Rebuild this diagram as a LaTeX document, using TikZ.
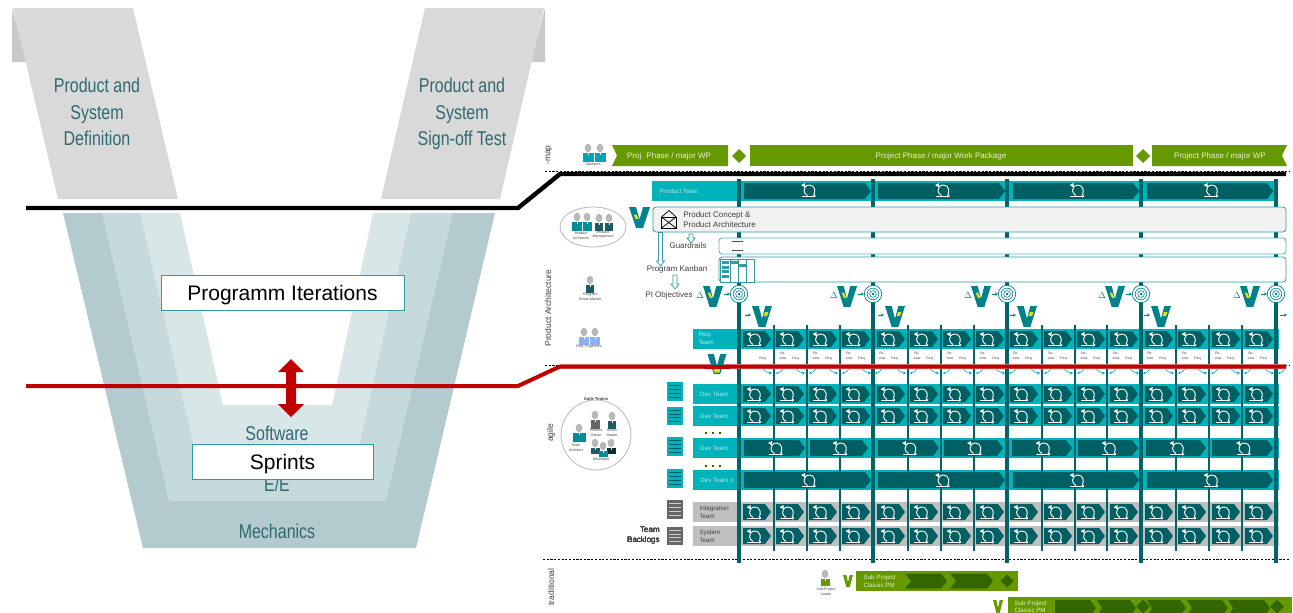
\documentclass[tikz,border=0pt]{standalone}
\usepackage{fontspec}
\setmainfont{Liberation Sans}
\newfontfamily\narrowfont[FakeStretch=0.8]{Liberation Sans}
\usepackage{xcolor}
\usepackage{tikz}
\usetikzlibrary{arrows.meta}

\definecolor{greylight}{HTML}{D9D9D9}
\definecolor{greydark}{HTML}{C9C9C9}
\definecolor{layerone}{HTML}{B3CBCE}
\definecolor{layertwo}{HTML}{C6DADD}
\definecolor{layerthree}{HTML}{D9E6E8}
\definecolor{vtext}{HTML}{2F6A70}
\definecolor{boxline}{HTML}{2E9CA0}
\definecolor{barred}{HTML}{C00000}
\definecolor{barpink}{HTML}{E8A8A8}
\definecolor{teamteal}{HTML}{00B2BA}
\definecolor{iterdark}{HTML}{005F63}
\definecolor{linedark}{HTML}{006468}
\definecolor{vteal}{HTML}{00828C}
\definecolor{ppl}{HTML}{008C99}
\definecolor{pplsky}{HTML}{00A5B5}
\definecolor{ppldark}{HTML}{1A5C60}
\definecolor{pplblue}{HTML}{8FB0F0}
\definecolor{phasegreen}{HTML}{669900}
\definecolor{chevgreen}{HTML}{336600}
\definecolor{teamtext}{HTML}{B8EAEC}
\definecolor{textdark}{HTML}{404040}

\tikzset{
  sectionlabel/.style={rotate=90, font=\fontsize{8.5}{10}\selectfont, text=textdark},
  vlabel/.style={font=\narrowfont\fontsize{20}{26.5}\selectfont, text=vtext, align=center},
  phaselabel/.style={font=\fontsize{8}{10}\selectfont, text=white!85!phasegreen},
  darklabel/.style={font=\fontsize{8}{10}\selectfont, text=textdark},
  teamlabel/.style={font=\fontsize{6.2}{8}\selectfont, text=teamtext, align=left},
  greylabel/.style={font=\fontsize{6.2}{7.5}\selectfont, text=textdark, align=left, anchor=west},
  tinylabel/.style={font=\fontsize{3.6}{4.8}\selectfont, text=textdark, align=center},
  revlabel/.style={font=\fontsize{3.4}{5}\selectfont, text=textdark, align=center},
  phasebar/.style={fill=phasegreen},
  iterfill/.style={fill=iterdark},
  teamband/.style={fill=teamteal},
  greyband/.style={fill=black!25},
  roundbar/.style={draw=boxline, rounded corners=3pt, line width=0.8pt},
  hollowarrow/.style={draw=boxline, fill=white, line width=0.7pt},
  levelbox/.style={draw=boxline, fill=white, line width=0.8pt, text height=15.5pt, text depth=0pt, font=\fontsize{21}{24}\selectfont},
  limitline/.style={black, line width=0.7pt, dash pattern=on 2.2pt off 1.5pt},
}

% an iteration arrow: left, right, top, bottom
\newcommand{\iterbox}[4]{
  \fill[iterfill] (#1,#3) -- (#2-6,#3) -- (#2,{(#3+#4)/2}) -- (#2-6,#4) -- (#1,#4) -- cycle;
}
% the loop glyph, centred at x,y
\newcommand{\iterglyph}[2]{
  \begin{scope}[shift={({#1},{#2})}, white, line width=0.95pt]
    \draw[-{Stealth[length=2.4pt,width=3pt]}] (-6,6) -- (8.5,6);
    \draw (6,5.5) .. controls (8.5,2) and (7.5,-5) .. (2,-5)
      .. controls (-2,-5) and (-3.5,-2) .. (-3.5,0.5) .. controls (-3.5,2.5) and (-2,4.5) .. (0,5.5);
    \fill (-6.5,-5) -- (-2.5,-7) -- (-2.5,-2.5) -- cycle;
  \end{scope}
}
% one person: x, head y, body colour, body width, body height
\newcommand{\person}[5]{
  \fill[black!28] (#1,#2) ellipse (3.4 and 4.2);
  \fill[#3] ({#1-#4/2},#2+4.5) rectangle ({#1+#4/2},#2+4.5+#5);
  \fill[white] ({#1-0.4},#2+5) rectangle ({#1+0.4},#2+7);
}
% a V mark: centre x, top y, width, height, colour
\newcommand{\vmark}[5]{
  \fill[#5] ({#1-#3/2},#2) -- ({#1-#3/6},#2) -- (#1,{#2+#4*0.6}) -- ({#1+#3/6},#2) -- ({#1+#3/2},#2)
    -- ({#1+#3/6},#2+#4) -- ({#1-#3/6},#2+#4) -- cycle;
}
% a backlog stack: top y, bottom y, fill colour, stripe colour
\newcommand{\backlog}[4]{
  \fill[#3] (667,#1) rectangle (683,#2);
  \foreach \n in {1,...,4}
    \draw[#4, line width=0.9pt] (669,{#1+\n*(#2-#1)/5}) -- (681,{#1+\n*(#2-#1)/5});
}
% a hollow down arrow: x, top y, bottom y
\newcommand{\hollowdown}[3]{
  \draw[hollowarrow] (#1-2,#2) -- (#1+2,#2) -- (#1+2,#3-5) -- (#1+4,#3-5) -- (#1,#3) -- (#1-4,#3-5) -- (#1-2,#3-5) -- cycle;
}
\newcommand{\chevron}[5]{
  \fill[chevgreen] (#1,#3) -- (#2-6,#3) -- (#2,{(#3+#4)/2}) -- (#2-6,#4) -- (#1,#4) -- (#1+#5,{(#3+#4)/2}) -- cycle;
}

\begin{document}
\begin{tikzpicture}[x=1pt, y=-1pt, line width=0.6pt]

  \useasboundingbox (0,0) rectangle (1293,613);

  % -- left picture: the big V -----------------------------------------------
  \fill[greydark] (12,8) -- (12,62) -- (27,62) -- cycle;
  \fill[greydark] (545,8) -- (545,62) -- (531,62) -- cycle;
  \fill[greylight] (13,8) -- (133,8) -- (178,199) -- (58,199) -- cycle;
  \fill[greylight] (425,8) -- (544,8) -- (500,199) -- (381,199) -- cycle;

  \fill[layerone] (63,213) -- (143,548) -- (416,548) -- (495,213) -- cycle;
  \fill[layertwo] (102,213) -- (169,501) -- (386,501) -- (453,213) -- cycle;
  \fill[layerthree] (140,213) -- (197,460) -- (356,460) -- (411,213) -- cycle;
  \fill[white] (180,213) -- (223,405) -- (332,405) -- (373,213) -- cycle;

  \node[vlabel] (leftname) at (97,112) {Product and\\System\\Definition};
  \node[vlabel] (rightname) at (462,114) {Product and\\System\\Sign-off Test};
  \node[vlabel] (software) at (277,433) {Software};
  \node[vlabel] (ee) at (277,484) {E/E};
  \node[vlabel] (mechanics) at (277,531) {Mechanics};

  \node[levelbox, minimum width=243pt, minimum height=35pt] (iterations) at (282.5,292.5) {Programm Iterations};
  \node[levelbox, minimum width=181pt, minimum height=35pt] (sprints) at (282.5,461.5) {Sprints};

  % -- section limits --------------------------------------------------------
  \draw[limitline] (545,171) -- (1290,171);
  \draw[limitline] (545,365.5) -- (1290,365.5);
  \draw[limitline] (543,559) -- (1289,559);

  \node[sectionlabel] (roadmap) at (549,155) {-map};
  \node[sectionlabel] (archlabel) at (548,308) {Product Architecture};
  \node[sectionlabel] (agilelabel) at (551,433) {agile};
  \node[sectionlabel] (tradlabel) at (551,587) {traditional};

  % -- roadmap row -----------------------------------------------------------
  \person{588}{148}{pplsky}{11}{9}
  \person{600}{148}{pplsky}{11}{9}
  \node[tinylabel] (sponsors) at (593,165) {Sponsors};

  \fill[phasebar] (612,145) -- (728,145) -- (728,166) -- (612,166) -- (617,155.5) -- cycle;
  \fill[phasegreen] (739,149) -- (746,156) -- (739,163) -- (732,156) -- cycle;
  \fill[phasebar] (750,145) rectangle (1133,166);
  \fill[phasegreen] (1143,149) -- (1150,156) -- (1143,163) -- (1136,156) -- cycle;
  \fill[phasebar] (1152,145) -- (1287,145) -- (1282,155.5) -- (1287,166) -- (1152,166) -- cycle;
  \node[phaselabel] (phasea) at (669,156) {Proj. Phase / major WP};
  \node[phaselabel] (phaseb) at (941,156) {Project Phase / major Work Package};
  \node[phaselabel] (phasec) at (1220,156) {Project Phase / major WP};

  % -- team bands ------------------------------------------------------------
  \fill[teamband] (652,181) rectangle (1274,201);
  \fill[teamband] (693,329) rectangle (1279,349);
  \foreach \ytop in {384,406,438,470}
    \fill[teamband] (693,\ytop) rectangle (1279,\ytop+20);
  \foreach \ytop in {502,526}
    \fill[greyband] (693,\ytop) rectangle (1279,\ytop+20);

  % -- sprint limits, then PI limits -----------------------------------------
  \foreach \xs in {774,807,840,908,941,974,1042,1075,1107,1176,1209,1242}
    \draw[linedark, line width=1.7pt] (\xs,325) -- (\xs,551);
  \foreach \xs in {739,873,1007,1141,1276}
    \draw[linedark, line width=4pt] (\xs,179) -- (\xs,563);

  % -- iteration arrows ------------------------------------------------------
  \foreach \xa/\xb in {744/871,878/1005,1013/1139,1147/1273} {
    \iterbox{\xa}{\xb}{183}{199}
    \iterglyph{(\xa+\xb)/2}{190}
    \iterbox{\xa}{\xb}{472}{488}
    \iterglyph{(\xa+\xb)/2}{480}
  }
  \foreach \xa/\xb in {744/805,810/868,878/939,944/1003,1012/1072,1078/1138,1146/1206,1212/1273} {
    \iterbox{\xa}{\xb}{440}{456}
    \iterglyph{(\xa+\xb)/2}{448}
  }
  \foreach \xa in {743,776,809,842,877,910,943,976,1010,1044,1077,1110,1145,1178,1212,1245}
    \foreach \ytop in {331,386,408,504,528} {
      \iterbox{\xa}{\xa+28}{\ytop}{\ytop+16}
      \iterglyph{\xa+10}{\ytop+8}
    }

  % -- review / requirement marks under the Req. row -------------------------
  \node[revlabel] (reqfirst) at (763,359) {Req.};
  \foreach \xs in {774,807,840,873,908,941,974,1007,1042,1075,1107,1141,1176,1209,1242} {
    \node[revlabel] at (\xs+9,356) {Re-\\view};
    \node[revlabel] at (\xs+22,359) {Req.};
  }
  \foreach \xs in {774,807,840,873,908,941,974,1007,1042,1075,1107,1141,1176,1209,1242,1276} {
    \draw[pplsky, line width=0.5pt, -{Stealth[length=3pt,width=3pt]}] (\xs-12,367) .. controls (\xs-10,371) and (\xs-6,373) .. (\xs-2,373);
    \draw[pplsky, line width=0.5pt, -{Stealth[length=2.5pt,width=2.5pt]}] (\xs+10,367) .. controls (\xs+8,371) and (\xs+5,373) .. (\xs+2,373);
  }

  % -- the three long boxes ---------------------------------------------------
  \draw[roundbar, fill=black!5] (653,207) rectangle (1286,232);
  \draw[roundbar, draw=boxline!80, fill=white] (719,238) rectangle (1286,254);
  \draw[roundbar, fill=white] (719,257) rectangle (1286,282);

  \node[anchor=west, font=\fontsize{8}{10}\selectfont, text=textdark, align=left, inner sep=0pt] (concept) at (683,219.5) {Product Concept \&\\Product Architecture};
  % concept glyph
  \draw[black, line width=0.7pt] (661.5,217) rectangle (676,228);
  \draw[black, line width=0.7pt] (661.5,217) -- (669,210.5) -- (676,217);
  \draw[black, line width=0.7pt] (661.5,217) -- (676,228) (676,217) -- (661.5,228);

  \draw[black!70, line width=0.8pt] (732,241) -- (743,241) (732,250) -- (743,250);

  % kanban board
  \draw[boxline, fill=white, line width=0.7pt] (720,259) rectangle (754,282);
  \foreach \xs in {730,738,746}
    \draw[boxline, line width=0.7pt] (\xs,259) -- (\xs,282);
  \foreach \xa/\ytop in {722/261,722/265.5,722/270,722/274.5,730.5/261,738.5/264}
    \fill[boxline] (\xa,\ytop) rectangle (\xa+7,\ytop+3);

  \node[darklabel] (guardrails) at (688,246) {Guardrails};
  \node[darklabel] (kanban) at (677,269) {Program Kanban};
  \node[darklabel] (objectives) at (669,295) {PI Objectives};
  \hollowdown{691}{234}{243}
  \hollowdown{660.5}{232.5}{266}
  \hollowdown{675}{275}{289}

  % -- PI objective targets ---------------------------------------------------
  \foreach \xs in {739,873,1007,1141,1276} {
    \fill[white] (\xs,294) circle (8.7);
    \draw[vteal, line width=0.7pt] (\xs,294) circle (8.7);
    \draw[vteal, line width=0.6pt] (\xs,294) circle (5.8);
    \draw[vteal, line width=0.6pt] (\xs,294) circle (3.4);
    \fill[vteal] (\xs,294) circle (1.5);
    \vmark{\xs-26}{286}{20}{21}{vteal}
    \fill[yellow!90!black] (\xs-31.5,292.5) -- (\xs-29,292.5) -- (\xs-26.5,298) -- (\xs-29,298) -- cycle;
    \node[font=\fontsize{9}{10}\selectfont, text=vteal] at (\xs-39,295.5) {$\Delta$};
    \draw[vteal, line width=0.8pt, -{Stealth[length=3pt,width=3pt]}] (\xs-15,294) -- (\xs-9,294);
  }

  % -- requirement V marks ---------------------------------------------------
  \foreach \xv in {762,895,1027,1161} {
    \vmark{\xv}{306}{20}{21}{vteal}
    \fill[yellow!90!black] (\xv+3,312) -- (\xv+6.5,312) -- (\xv+5,316) -- (\xv+1.5,316) -- cycle;
    \draw[vteal, line width=0.8pt, -{Stealth[length=3pt,width=3pt]}] (\xv-17,315) -- (\xv-11,315);
  }
  \draw[vteal, line width=0.8pt, -{Stealth[length=3pt,width=3pt]}] (1280,315) -- (1287,315);

  \vmark{639.5}{207}{21}{21}{vteal}
  \fill[yellow!90!black] (633.5,214.5) -- (636.5,214.5) -- (638.5,219) -- (635.5,219) -- cycle;

  % -- the two limits of the left V, running over to the right picture -------
  \draw[black, line width=4.4pt] (26,208) -- (518,208) -- (560,174) -- (1286,174);
  \draw[barpink, line width=5.5pt] (560,366.5) -- (1286,366.5);
  \draw[barred, line width=4pt] (26,386) -- (518,386) -- (560,366.5) -- (1286,366.5);
  \fill[barred] (291,359) -- (304,372) -- (296,372) -- (296,404) -- (304,404) -- (291,417) -- (278,404) -- (286,404) -- (286,372) -- (278,372) -- cycle;

  % the V sitting on the red limit
  \vmark{717}{354}{19}{20}{vteal}
  \fill[yellow!90!black] (713,366) -- (721,366) -- (719.5,372.5) -- (714.5,372.5) -- cycle;
  \draw[barred, line width=4pt] (705,366.5) -- (730,366.5);

  % -- team labels -----------------------------------------------------------
  \node[font=\fontsize{6.2}{8}\selectfont, text=teamtext] (productteam) at (679,191) {Product Team};
  \node[teamlabel, anchor=west] (reqteam) at (695,338.5) {Req.\\Team};
  \node[teamlabel] (deva) at (714,394) {Dev Team};
  \node[teamlabel] (devb) at (714,416) {Dev Team};
  \node[teamlabel] (devc) at (714,448.5) {Dev Team};
  \node[teamlabel] (devn) at (717,480.5) {Dev Team n};
  \node[greylabel] (integration) at (696,512.5) {Integration\\Team};
  \node[greylabel] (system) at (696,536.5) {System\\Team};

  \foreach \ydot in {433,466}
    \foreach \xdot in {706,713,720}
      \fill[chevgreen] (\xdot-1,\ydot-1) rectangle (\xdot+1,\ydot+1);

  % -- backlogs ---------------------------------------------------------------
  \foreach \ytop/\ybot in {382/401,407/425,437/456,469/488}
    \backlog{\ytop}{\ybot}{teamteal}{vteal!70!black}
  \backlog{500}{519}{black!60}{black!20}
  \backlog{527}{545}{black!60}{black!20}
  \node[darklabel, align=right, anchor=east] (teambacklogs) at (663.3,535.4) {Team\\Backlogs};

  % -- people ------------------------------------------------------------------
  \draw[black!25, line width=0.9pt, fill=white] (593,227) ellipse (33 and 20);
  \person{577}{217}{ppl}{10}{9}
  \person{587}{217}{ppl}{9}{9}
  \person{599}{218}{ppldark}{8}{8}
  \person{609}{218}{ppldark}{8}{8}
  \node[tinylabel] (architects) at (581,235.5) {Product\\Architects};
  \node[tinylabel] (management) at (603,234.5) {Product\\Management};

  \person{590}{280}{ppldark}{8}{8}
  \node[tinylabel] (scrummaster) at (590,297) {Program\\Scrum Master};
  \person{584}{332}{pplblue}{10}{8}
  \person{595}{332}{pplblue}{10}{8}
  \node[tinylabel] (engineers) at (589,347) {Req. Engineers};

  \node[tinylabel, font=\bfseries\fontsize{4.2}{5}\selectfont] (agileteams) at (596,399) {Agile Teams};
  \draw[black!25, line width=0.9pt, fill=white] (596,435) circle (35);
  \person{579}{428}{ppl}{13}{9}
  \person{595}{415}{black!60}{9}{9}
  \person{612}{416}{ppldark}{8}{8}
  \person{595}{443}{ppldark}{9}{6}
  \person{611}{443}{ppldark!50!black}{9}{6}
  \person{603}{446}{ppl}{9}{6}
  \node[tinylabel] (architect) at (576,447.5) {Team\\Architect};
  \node[tinylabel] (owner) at (596,433) {Product\\Owner};
  \node[tinylabel] (scrum) at (612,433) {Scrum\\Master};
  \node[tinylabel] (developer) at (601,459.5) {Developer};

  % -- traditional sub projects ------------------------------------------------
  \person{825}{574}{phasegreen}{9}{7}
  \node[tinylabel] (leads) at (826,592) {Sub-Project\\Leads};
  \vmark{848}{575}{10}{12}{phasegreen}
  \fill[phasegreen] (856,571) rectangle (1018,591);
  \node[font=\fontsize{6.2}{8}\selectfont, text=white!80!phasegreen, align=left, anchor=west] (subone) at (860,581) {Sub Project\\Classic PM};
  \chevron{905}{947}{573.5}{588.5}{6}
  \chevron{950}{993}{573.5}{588.5}{6}
  \fill[chevgreen] (1007,574.5) -- (1013.5,581) -- (1007,587.5) -- (1000.5,581) -- cycle;

  \begin{scope}
    \clip (0,0) rectangle (1293,613);
    \vmark{998}{600}{10}{13}{phasegreen}
    \fill[phasegreen] (1008,597) rectangle (1292,620);
    \node[font=\fontsize{6.2}{7.5}\selectfont, text=white!80!phasegreen, align=left, anchor=west] (subtwo) at (1011,607) {Sub Project\\Classic PM};
    \foreach \xa/\xb/\xn in {1055/1096/0,1097/1136/5,1147/1186/5,1187/1228/5,1228/1270/5}
      \chevron{\xa}{\xb}{600}{616}{\xn}
    \foreach \xd in {1143,1277}
      \fill[chevgreen] (\xd,600) -- (\xd+6.5,606.5) -- (\xd,613) -- (\xd-6.5,606.5) -- cycle;
  \end{scope}

\end{tikzpicture}
\end{document}
